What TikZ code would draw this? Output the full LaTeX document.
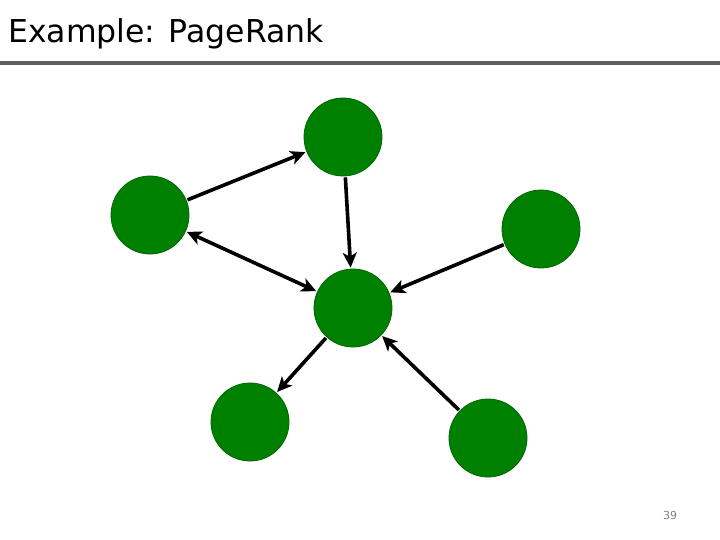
\documentclass[tikz,border=0pt]{standalone}
\usepackage{fontspec}
\setmainfont{DejaVu Sans}
\usetikzlibrary{arrows.meta}
\definecolor{pagegreen}{RGB}{0,128,0}
\definecolor{rulegray}{RGB}{95,95,95}
\tikzset{
	page/.style={circle, fill=pagegreen, draw=pagegreen!80!black, line width=.8pt, minimum size=78pt, inner sep=0pt},
	link/.style={line width=3.6pt, -{Stealth[length=15pt,width=14pt,inset=4pt]}, shorten <=1pt, shorten >=1pt},
	bothways/.style={link, {Stealth[length=15pt,width=14pt,inset=4pt]}-{Stealth[length=15pt,width=14pt,inset=4pt]}}
}
\begin{document}
\begin{tikzpicture}[x=1pt,y=-1pt]

	\useasboundingbox (0,0) rectangle (720,540);

	\node[anchor=base west, font=\fontsize{31.5}{36}\selectfont, inner sep=0pt] (title) at (8,43) {Example: PageRank};
	\draw[rulegray, line width=4pt]  (0,63) -- (720,63);

	\node[page] (top) at (343,137) {};
	\node[page] (left) at (150,215) {};
	\node[page] (right) at (541,229) {};
	\node[page] (center) at (353,308) {};
	\node[page] (lowleft) at (250,422) {};
	\node[page] (lowright) at (488,438) {};

	\draw[link]  (left) -- (top);
	\draw[link]  (top) -- (center);
	\draw[bothways]  (left) -- (center);
	\draw[link]  (right) -- (center);
	\draw[link]  (center) -- (lowleft);
	\draw[link]  (lowright) -- (center);

	\node[text=gray, font=\fontsize{11}{13}\selectfont] (pagenum) at (670,515) {39};
\end{tikzpicture}
\end{document}
